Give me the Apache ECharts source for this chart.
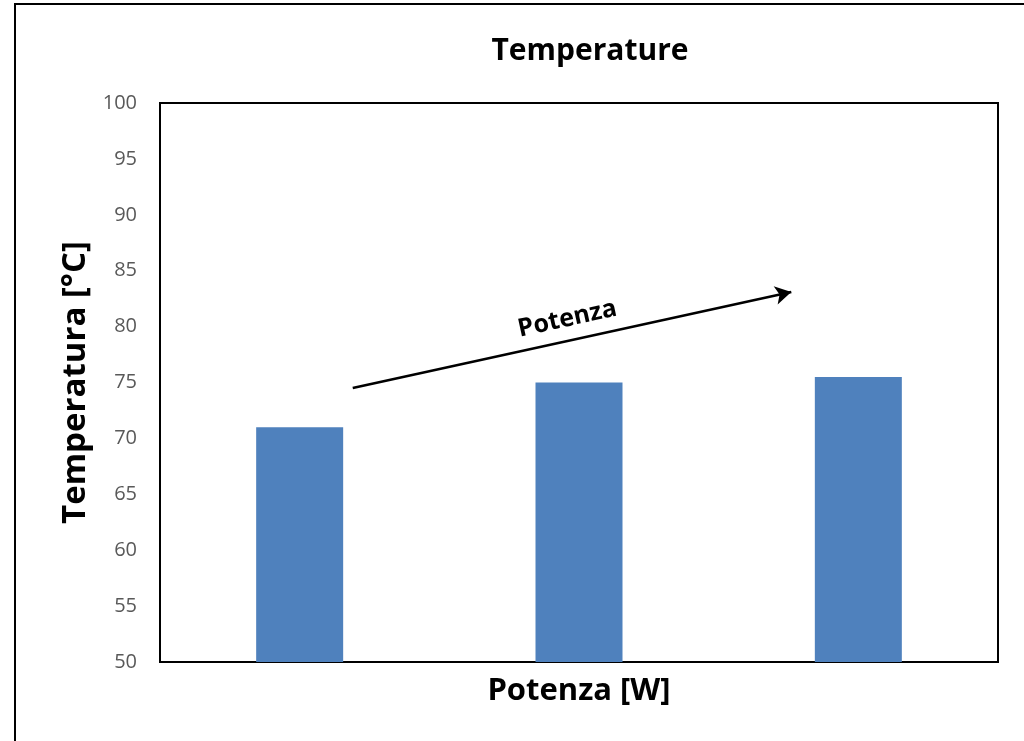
<!DOCTYPE html>
<html>
<head>
<meta charset="utf-8">
<script src="https://cdn.jsdelivr.net/npm/echarts@6/dist/echarts.min.js"></script>
<style>html,body{margin:0;padding:0;background:#fff}#c{width:1024px;height:741px}</style>
</head>
<body>
<div id="c"></div>
<script>
const categories = ['1', '2', '3'];
const temperatures = [71, 75, 75.5];
const yTicks = [50, 55, 60, 65, 70, 75, 80, 85, 90, 95, 100];
const arrowStart = [0.69, 74.5];
const arrowEnd = [2.26, 83.1];
const arrowLabel = 'Potenza';

const chart = echarts.init(document.getElementById('c'));
const font = '"Open Sans", "DejaVu Sans", sans-serif';
chart.setOption({
  animation: false,
  title: {
    text: 'Temperature', left: 585, top: 31, textAlign: 'center',
    textStyle: { fontFamily: font, fontWeight: 'bold', fontSize: 30, color: '#000' }
  },
  graphic: [{
    type: 'rect', shape: { x: 15, y: 4, width: 1040, height: 760 },
    style: { fill: null, stroke: '#000', lineWidth: 2 }, silent: true, z: -1
  }],
  grid: { left: 160, right: 26, top: 103, bottom: 79, show: true, borderColor: '#000', borderWidth: 2, backgroundColor: 'transparent' },
  xAxis: [{
    type: 'category', data: categories,
    axisLine: { show: false }, axisTick: { show: false }, axisLabel: { show: false },
    name: 'Potenza [W]', nameLocation: 'middle', nameGap: 14,
    nameTextStyle: { fontFamily: font, fontWeight: 'bold', fontSize: 31, color: '#000' }
  }, {
    type: 'value', min: 0, max: 3, show: false
  }],
  yAxis: {
    type: 'value', min: yTicks[0], max: yTicks[yTicks.length - 1], interval: 5,
    axisLine: { show: false }, axisTick: { show: false }, splitLine: { show: false },
    axisLabel: { fontFamily: font, fontSize: 20, color: '#595959', margin: 23 },
    name: 'Temperatura [°C]', nameLocation: 'middle', nameGap: 68,
    nameTextStyle: { fontFamily: font, fontWeight: 'bold', fontSize: 33, color: '#000' }
  },
  series: [{
    type: 'bar', data: temperatures, barWidth: 87,
    itemStyle: { color: '#4F81BD' }
  }, {
    type: 'line', xAxisIndex: 1, data: [], symbol: 'none',
    markLine: {
      silent: true, symbol: ['none', 'arrow'], symbolSize: [14, 16],
      lineStyle: { color: '#000', width: 2.5, type: 'solid' },
      label: { show: true, position: 'middle', formatter: arrowLabel, fontFamily: font, fontWeight: 'bold', fontSize: 25, color: '#000', distance: 9 },
      data: [[{ coord: arrowStart }, { coord: arrowEnd }]]
    }
  }]
});
</script>
</body>
</html>
